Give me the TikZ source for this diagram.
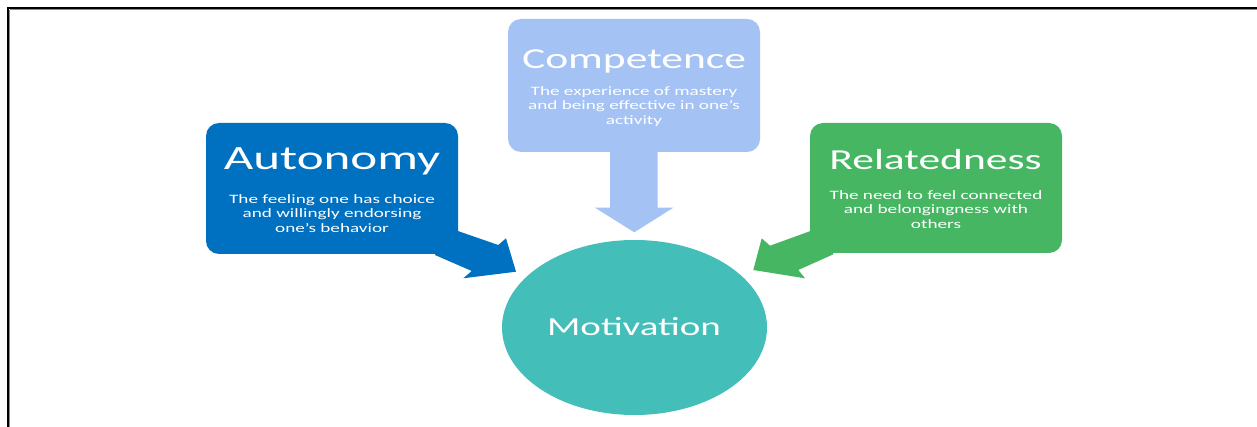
\documentclass[tikz,border=0pt]{standalone}
\usepackage{fontspec}
\setmainfont{Carlito}
\usepackage{graphicx}
\usetikzlibrary{shapes.geometric}
\definecolor{autblue}{HTML}{0070C0}
\definecolor{compblue}{HTML}{A4C2F4}
\definecolor{relgreen}{HTML}{47B663}
\definecolor{motteal}{HTML}{43BEB8}
\definecolor{shadowgray}{HTML}{8C8C8C}
\newcommand\widetxt[1]{\scalebox{1.5}[1]{#1}}
\newcommand\sublines[1]{\widetxt{\fontsize{12.8}{14.3}\selectfont\begin{tabular}{@{}c@{}}#1\end{tabular}}}
\tikzset{
  calloutbox/.style={rounded corners=13pt, minimum width=252pt, inner sep=0pt, draw=none},
  titletxt/.style={text=white, inner sep=0pt, anchor=base},
  subtxt/.style={text=white, inner sep=0pt, anchor=center},
}
\begin{document}
\begin{tikzpicture}[x=1pt,y=-1pt]
\useasboundingbox (0,0) rectangle (1257,427);
\fill[white] (0,0) rectangle (1257,427);
% frame
\draw[shadowgray, line width=1pt] (9.8,9.8) -- (1257,9.8);
\draw[shadowgray, line width=1pt] (9.8,9.8) -- (9.8,427);
\draw[black, line width=2.4pt] (6.8,8.2) -- (1257,8.2);
\draw[black, line width=2.4pt] (8.0,7.0) -- (8.0,427);

% callout arrows
\fill[autblue] (450,228.3) -- (498.3,245) -- (506,238.3) -- (516,271.7)
  -- (463.3,278.3) -- (471.7,271) -- (435,255) -- (435,240) -- cycle;
\fill[compblue] (610,140) -- (610,207.7) -- (595,207.7) -- (634.3,232.3)
  -- (673.3,207.7) -- (657.7,207.7) -- (657.7,140) -- cycle;
\fill[relgreen] (818,228.3) -- (770,245.7) -- (761.7,238.3) -- (753.3,270)
  -- (805,278.3) -- (798.3,270) -- (833.3,254.3) -- (833.3,240) -- cycle;

% boxes
\node[calloutbox, fill=autblue, minimum height=131pt] (aut) at (332,188.5) {};
\node[calloutbox, fill=compblue, minimum height=133pt] (comp) at (634,85.5) {};
\node[calloutbox, fill=relgreen, minimum height=130pt] (rel) at (936,188) {};
\node[ellipse, fill=motteal, inner sep=0pt, minimum width=265pt, minimum height=175pt] (mot) at (634.5,327.5) {};

% texts
\node[titletxt] (autT) at (332,170) {\widetxt{\fontsize{34}{40}\selectfont Autonomy}};
\node[subtxt] (autS) at (332,215) {\sublines{The feeling one has choice\\and willingly endorsing\\one’s behavior}};
\node[titletxt] (compT) at (634,69) {\widetxt{\fontsize{29}{34}\selectfont Competence}};
\node[subtxt] (compS) at (634,107) {\sublines{The experience of mastery\\and being effective in one’s\\activity}};
\node[titletxt] (relT) at (935.5,170) {\widetxt{\fontsize{29}{34}\selectfont Relatedness}};
\node[subtxt] (relS) at (936,211) {\sublines{The need to feel connected\\and belongingness with\\others}};
\node[titletxt] (motT) at (634,335) {\widetxt{\fontsize{26}{30}\selectfont Motivation}};
\end{tikzpicture}
\end{document}
